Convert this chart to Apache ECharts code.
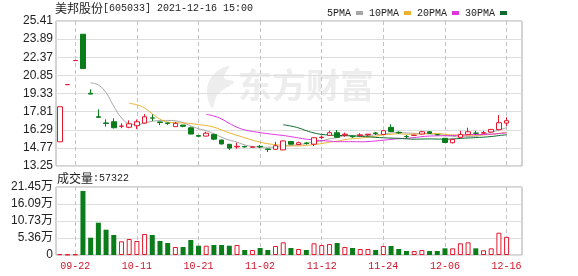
<!DOCTYPE html>
<html><head><meta charset="utf-8">
<script src="https://cdn.jsdelivr.net/npm/echarts@6/dist/echarts.min.js"></script>
<style>html,body{margin:0;padding:0;background:#fff}#c{width:578px;height:276px}</style>
</head><body><div id="c"></div>
<script>
// ---- data ----
const dates = ['09-16','09-17','09-22','09-23','09-24','09-27','09-28','09-29','09-30','10-08',
  '10-11','10-12','10-13','10-14','10-15','10-18','10-19','10-20','10-21','10-22',
  '10-25','10-26','10-27','10-28','10-29','11-01','11-02','11-03','11-04','11-05',
  '11-08','11-09','11-10','11-11','11-12','11-15','11-16','11-17','11-18','11-19',
  '11-22','11-23','11-24','11-25','11-26','11-29','11-30','12-01','12-02','12-03',
  '12-06','12-07','12-08','12-09','12-10','12-13','12-14','12-15','12-16'];
const opens  = [15.28,20.07,22.09,24.30,19.35,17.38,16.86,16.96,16.59,16.50,
  16.63,16.85,17.28,16.95,16.86,16.55,16.68,16.45,15.80,15.76,
  15.90,15.43,15.07,14.85,14.88,14.82,14.90,14.68,14.65,14.60,
  15.30,15.05,15.18,15.08,15.63,15.82,16.04,15.85,15.75,15.80,
  15.87,16.02,15.90,16.49,16.08,15.73,15.82,15.93,16.12,15.88,
  15.57,15.20,15.65,15.90,16.01,16.00,16.10,16.30,16.85];
const closes = [18.22,20.08,22.10,21.42,19.28,17.33,16.82,16.46,16.60,16.79,
  16.96,17.38,17.27,16.90,16.82,16.83,16.58,15.93,15.75,16.00,
  15.50,15.10,14.75,14.90,14.85,14.85,14.85,14.63,14.95,15.35,
  15.08,15.20,15.13,15.62,15.67,16.04,15.66,15.92,15.70,15.86,
  15.92,15.98,16.21,16.14,16.03,15.72,15.83,16.12,15.99,15.87,
  15.22,15.48,15.90,16.12,16.00,16.05,16.32,16.88,17.05];
const lows   = [15.28,20.07,22.09,21.42,19.28,17.33,16.55,16.40,16.42,16.42,
  16.35,16.82,17.02,16.68,16.70,16.52,16.50,15.90,15.65,15.74,
  15.42,15.05,14.60,14.70,14.80,14.80,14.75,14.42,14.62,14.58,
  15.05,15.00,15.05,14.92,15.50,15.80,15.62,15.70,15.62,15.78,
  15.75,15.85,15.88,16.10,15.95,15.55,15.80,15.90,15.95,15.82,
  15.18,15.15,15.62,15.88,15.85,15.95,16.05,16.25,16.60];
const highs  = [18.22,20.08,22.10,24.30,19.68,18.00,17.16,17.25,16.83,17.08,
  17.15,17.60,17.58,16.95,16.90,16.95,16.70,16.55,15.85,16.13,
  15.95,15.45,15.10,15.20,14.95,14.90,15.00,14.70,15.28,15.38,
  15.35,15.30,15.25,15.65,15.80,16.21,16.27,16.05,15.80,16.00,
  15.93,16.10,16.25,16.75,16.15,15.85,15.86,16.20,16.15,15.92,
  15.60,15.52,16.20,16.46,16.20,16.20,16.35,17.52,17.33];
const volumes = [2500,1200,1800,202000,54600,101900,79800,63100,43200,50500,
  44200,66200,63100,44200,37800,25200,25200,47300,29300,29300,
  31500,31500,29300,31500,15800,15800,22100,15800,28400,40000,
  22100,18900,15800,36900,31500,34700,37800,25200,22100,18900,
  18900,15800,28400,28400,18900,12600,12600,15800,12600,12600,
  21000,21000,36900,40000,21000,14800,21000,70300,57322];
// moving averages (first value at index 4 / 9 / 19 / 29)
const ma5 = [20.22,20.04,19.39,18.26,17.30,16.80,16.73,16.84,17.00,17.06,
  17.07,17.04,16.88,16.61,16.38,16.22,15.95,15.66,15.42,15.25,
  15.02,14.89,14.84,14.82,14.83,14.93,14.97,15.04,15.14,15.28,
  15.34,15.53,15.62,15.78,15.80,15.84,15.81,15.88,15.93,16.02,
  16.06,16.02,15.99,15.97,15.94,15.91,15.81,15.74,15.69,15.72,
  15.74,15.91,16.08,16.27,16.46];
const ma10 = [18.51,18.38,18.11,17.63,17.18,16.93,16.88,16.86,16.81,16.72,
  16.64,16.50,16.27,16.02,15.82,15.62,15.42,15.25,15.12,15.04,
  14.97,14.93,14.94,14.98,15.05,15.13,15.25,15.33,15.46,15.54,
  15.59,15.67,15.75,15.86,15.91,15.95,15.91,15.93,15.95,15.98,
  15.98,15.91,15.86,15.83,15.83,15.83,15.86,15.91,15.98,16.09];
const ma20 = [17.58,17.44,17.19,16.82,16.50,16.28,16.15,16.05,15.96,15.88,
  15.81,15.71,15.60,15.50,15.43,15.38,15.34,15.29,15.29,15.29,
  15.28,15.30,15.35,15.42,15.48,15.54,15.58,15.63,15.71,15.76,
  15.78,15.79,15.81,15.84,15.87,15.89,15.89,15.92,15.97,16.03];
const ma30 = [16.71,16.60,16.44,16.21,16.02,15.90,15.85,15.81,15.80,15.77,
  15.73,15.70,15.65,15.62,15.59,15.57,15.53,15.50,15.51,15.52,
  15.51,15.50,15.52,15.56,15.60,15.63,15.67,15.72,15.80,15.87];
const priceTicks = [13.25,14.77,16.29,17.81,19.33,20.85,22.37,23.89,25.41];
const dateTickIdx = [2,10,18,26,34,42,50,58];
const lastVolume = 57322;

// ---- build ----
const UP = '#e3172d', DOWN = '#0a7d1a', LABEL = '#222';
const kData = dates.map((d, i) => [i, opens[i], closes[i], lows[i], highs[i]]);
function sign(i) {
  if (closes[i] > opens[i]) return 1;
  if (closes[i] < opens[i]) return -1;
  return i > 0 ? (closes[i - 1] <= closes[i] ? 1 : -1) : 1;
}
const volData = volumes.map((v, i) => sign(i) > 0
  ? { value: [i, v], itemStyle: { color: '#fff', borderColor: UP, borderWidth: 1 } }
  : { value: [i, v], itemStyle: { color: DOWN } });
const maData = (arr, start) => arr.map((v, k) => [start + k, v]);
const mono = '"Liberation Mono", monospace';
const cjk = '"Noto Sans CJK SC"';
const richTitle = {
  c: { fontFamily: cjk, fontSize: 12, fontWeight: 'normal', color: LABEL },
  a: { fontFamily: mono, fontSize: 10, fontWeight: 'normal', color: LABEL }
};

const chart = echarts.init(document.getElementById('c'), null, { renderer: 'canvas' });
chart.setOption({
  animation: false,
  backgroundColor: '#fff',
  title: [
    { left: 55, top: 2, padding: 0,
      text: '{c|美邦股份}{a|[605033] 2021-12-16 15:00}',
      textStyle: { fontWeight: 'normal', rich: richTitle } },
    { left: 57, top: 172, padding: 0,
      text: '{c|成交量}{a|:' + lastVolume + '}',
      textStyle: { fontWeight: 'normal', rich: richTitle } }
  ],
  legend: {
    right: 66, top: 3, align: 'right', icon: 'rect', itemWidth: 7, itemHeight: 4, itemGap: 6,
    textStyle: { fontFamily: mono, fontSize: 10, color: LABEL },
    data: ['5PMA', '10PMA', '20PMA', '30PMA']
  },
  graphic: [
    { type: 'polygon', z: -10, silent: true,
      shape: { points: [[229, 66], [214, 74], [207, 90], [212, 108], [218, 94], [234, 82], [224, 78]], smooth: 0.4 },
      style: { fill: '#ededed' } },
    { type: 'text', left: 238, top: 68, z: -10, silent: true,
      style: { text: '东方财富', fontSize: 34, fontWeight: 'bold', fontFamily: cjk, fill: '#ededed' } }
  ],
  grid: [
    { left: 56, top: 21, width: 466, height: 145, show: true, borderColor: '#a8a8a8', borderWidth: 1 },
    { left: 56, top: 187, width: 466, height: 68, show: true, borderColor: '#a8a8a8', borderWidth: 1 }
  ],
  xAxis: [
    { type: 'value', gridIndex: 0, min: -0.5, max: 60,
      axisLine: { show: false }, axisTick: { show: false, customValues: dateTickIdx },
      axisLabel: { show: false, customValues: dateTickIdx },
      splitLine: { show: true, lineStyle: { color: '#c4c4c4', type: [4, 3] } } },
    { type: 'value', gridIndex: 1, min: -0.5, max: 60,
      axisLine: { show: false }, axisTick: { show: false, customValues: dateTickIdx },
      axisLabel: { customValues: dateTickIdx, formatter: v => dates[Math.round(v)], color: '#d0142a', fontFamily: mono, fontSize: 10, margin: 6 },
      splitLine: { show: true, lineStyle: { color: '#c4c4c4', type: [4, 3] } } }
  ],
  yAxis: [
    { type: 'value', gridIndex: 0, min: 13.25, max: 25.41,
      axisLine: { show: false }, axisTick: { show: false, customValues: priceTicks },
      axisLabel: { customValues: priceTicks, formatter: v => v.toFixed(2), color: LABEL, fontFamily: '"Liberation Sans", Arial', fontSize: 12, margin: 3 },
      splitLine: { show: true, lineStyle: { color: '#dedede' } } },
    { type: 'value', gridIndex: 1, min: 0, max: 214500, interval: 53625,
      axisLine: { show: false }, axisTick: { show: false },
      axisLabel: { formatter: v => v === 0 ? '0' : (Math.round(v / 100) / 100).toFixed(2) + '万', color: LABEL, fontFamily: '"Liberation Sans", Arial, ' + cjk, fontSize: 12, margin: 3 },
      splitLine: { show: true, lineStyle: { color: '#dedede' } } }
  ],
  series: [
    { type: 'candlestick', name: 'K', xAxisIndex: 0, yAxisIndex: 0, data: kData, barWidth: 5, z: 3,
      itemStyle: { color: '#fff', color0: DOWN, borderColor: UP, borderColor0: DOWN, borderWidth: 1 } },
    { type: 'line', name: '5PMA', xAxisIndex: 0, yAxisIndex: 0, data: maData(ma5, 4), symbol: 'none', smooth: true,
      color: '#a6a6a6', lineStyle: { width: 1, color: '#a6a6a6' }, z: 2 },
    { type: 'line', name: '10PMA', xAxisIndex: 0, yAxisIndex: 0, data: maData(ma10, 9), symbol: 'none', smooth: true,
      color: '#ecb22e', lineStyle: { width: 1, color: '#ecb22e' }, z: 2 },
    { type: 'line', name: '20PMA', xAxisIndex: 0, yAxisIndex: 0, data: maData(ma20, 19), symbol: 'none', smooth: true,
      color: '#e034e0', lineStyle: { width: 1, color: '#e034e0' }, z: 2 },
    { type: 'line', name: '30PMA', xAxisIndex: 0, yAxisIndex: 0, data: maData(ma30, 29), symbol: 'none', smooth: true,
      color: '#0b6a2c', lineStyle: { width: 1, color: '#0b6a2c' }, z: 2 },
    { type: 'bar', name: 'VOL', xAxisIndex: 1, yAxisIndex: 1, data: volData, barWidth: 5 }
  ]
});
</script>
</body></html>
